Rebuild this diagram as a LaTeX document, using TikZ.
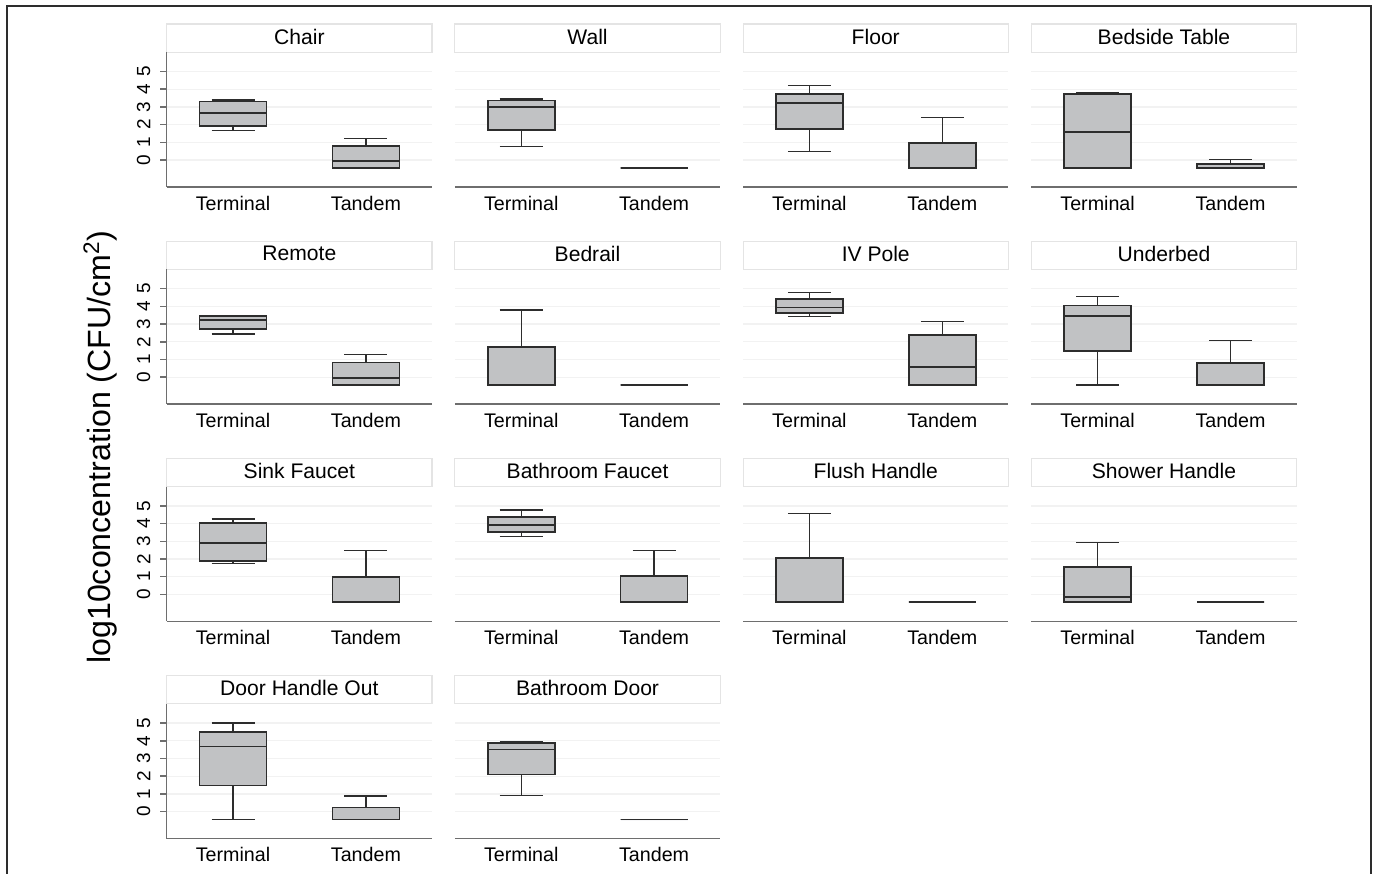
\documentclass[tikz,border=0pt]{standalone}
\usepackage{fontspec}
\setmainfont{Liberation Sans}
\definecolor{boxgray}{RGB}{193,194,196}
\definecolor{gridgray}{RGB}{242,242,242}
\definecolor{stripgray}{RGB}{228,228,228}
\definecolor{axisgray}{RGB}{110,110,110}
\definecolor{linedark}{RGB}{45,45,45}
\tikzset{
  strip/.style={draw=stripgray, fill=white, line width=0.6pt},
  striptext/.style={inner sep=0pt, font=\fontsize{12}{14}\selectfont},
  cat/.style={inner sep=0pt, font=\fontsize{11.2}{13}\selectfont},
  ticklab/.style={inner sep=0pt, rotate=90, font=\fontsize{10.8}{12}\selectfont},
  gridline/.style={draw=gridgray, line width=0.7pt},
  axisline/.style={draw=axisgray, line width=0.9pt},
  whisk/.style={draw=linedark, line width=0.8pt},
  bx/.style={draw=linedark, fill=boxgray, line width=1pt},
  med/.style={draw=linedark, line width=1pt},
}
% #1 centre x, #2 y of zero, #3 low, #4 q1, #5 median, #6 q3, #7 high
\newcommand{\boxplt}[7]{%
  \draw[whisk] ({#1},{#2-17.7*(#7)}) -- ({#1},{#2-17.7*(#6)});
  \draw[whisk] ({#1-21.5},{#2-17.7*(#7)}) -- ({#1+21.5},{#2-17.7*(#7)});
  \draw[whisk] ({#1},{#2-17.7*(#3)}) -- ({#1},{#2-17.7*(#4)});
  \draw[whisk] ({#1-21.5},{#2-17.7*(#3)}) -- ({#1+21.5},{#2-17.7*(#3)});
  \draw[bx] ({#1-33.5},{#2-17.7*(#4)}) rectangle ({#1+33.5},{#2-17.7*(#6)});
  \draw[med] ({#1-33.5},{#2-17.7*(#5)}) -- ({#1+33.5},{#2-17.7*(#5)});
}
\begin{document}
\begin{tikzpicture}[x=0.02cm,y=-0.02cm]
  \useasboundingbox (0,0) rectangle (1374,874);
  \draw[draw=linedark, line width=1.1pt] (7,6) rectangle (1371,900);
  \node[rotate=90, inner sep=0pt, font=\fontsize{18.3}{20}\selectfont] (ytitle) at (100,447)
    {log10concentration (CFU/cm$^{\mathrm{2}}$)};

  \foreach \c/\r/\name/\ta/\tb/\tc/\td/\te/\da/\db/\dc/\dd/\de [count=\i] in {
    0/0/Chair/1.66/1.92/2.67/3.30/3.39/-0.45/-0.45/-0.04/0.79/1.22,
    1/0/Wall/0.75/1.71/2.99/3.36/3.44/-0.45/-0.45/-0.45/-0.45/-0.45,
    2/0/Floor/0.49/1.77/3.20/3.74/4.21/-0.45/-0.45/-0.45/0.98/2.41,
    3/0/Bedside Table/-0.45/-0.45/1.60/3.73/3.78/-0.45/-0.45/-0.45/-0.23/0.02,
    0/1/Remote/2.44/2.71/3.22/3.47/3.50/-0.45/-0.45/-0.04/0.83/1.29,
    1/1/Bedrail/-0.45/-0.45/-0.45/1.69/3.80/-0.45/-0.45/-0.45/-0.45/-0.45,
    2/1/IV Pole/3.43/3.64/3.94/4.41/4.79/-0.45/-0.45/0.59/2.39/3.14,
    3/1/Underbed/-0.45/1.48/3.47/4.05/4.56/-0.45/-0.45/-0.45/0.80/2.06,
    0/2/Sink Faucet/1.74/1.89/2.92/4.02/4.25/-0.45/-0.45/-0.45/1.00/2.47,
    1/2/Bathroom Faucet/3.26/3.53/3.91/4.38/4.77/-0.45/-0.45/-0.45/1.02/2.49,
    2/2/Flush Handle/-0.45/-0.45/-0.45/2.06/4.58/-0.45/-0.45/-0.45/-0.45/-0.45,
    3/2/Shower Handle/-0.45/-0.45/-0.13/1.55/2.94/-0.45/-0.45/-0.45/-0.45/-0.45,
    0/3/Door Handle Out/-0.45/1.47/3.68/4.49/5.00/-0.45/-0.45/-0.45/0.23/0.89,
    1/3/Bathroom Door/0.92/2.09/3.51/3.87/3.96/-0.45/-0.45/-0.45/-0.45/-0.45}{
    \pgfmathsetmacro\xl{166.7+288.2*\c}
    \pgfmathsetmacro\yz{160+217.2*\r}
    \pgfmathsetmacro\yt{24+217.2*\r}
    % title strip
    \draw[strip] (\xl,\yt) rectangle (\xl+265.3,\yt+28.3);
    \node[striptext] (title\i) at (\xl+132.65,\yt+12.5) {\name};
    \foreach \k in {0,...,5}
      \draw[gridline] (\xl,\yz-17.7*\k) -- (\xl+265.3,\yz-17.7*\k);
    \draw[axisline] (\xl,\yz+27) -- (\xl+265.3,\yz+27);
    \boxplt{\xl+66.3}{\yz}{\ta}{\tb}{\tc}{\td}{\te}
    \boxplt{\xl+199.2}{\yz}{\da}{\db}{\dc}{\dd}{\de}
    \node[cat] (term\i) at (\xl+66.3,\yz+43) {Terminal};
    \node[cat] (tand\i) at (\xl+199.2,\yz+43) {Tandem};
  }

  % y axes, left column only
  \foreach \r in {0,...,3}{
    \pgfmathsetmacro\yz{160+217.2*\r}
    \draw[axisline] (166.7,\yz-107.7) -- (166.7,\yz+27);
    \foreach \k in {0,...,5}{
      \draw[axisline] (160,\yz-17.7*\k) -- (166.7,\yz-17.7*\k);
      \node[ticklab] (tick\r\k) at (143.7,\yz-17.7*\k) {\k};
    }
  }
\end{tikzpicture}
\end{document}
